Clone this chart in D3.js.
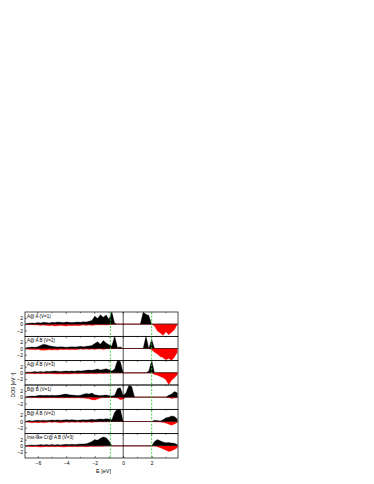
<!DOCTYPE html>
<html>
<head>
<meta charset="utf-8">
<script src="https://cdn.jsdelivr.net/npm/d3@7"></script>
<style>
  body { margin: 0; background: #fff; }
  text { font-family: "Liberation Sans", Arial, sans-serif; }
</style>
</head>
<body>
<div id="chart"></div>
<script>
// Energy grid: -6.8 .. 3.8 eV, 0.2 eV step (54 points)
const energies = d3.range(54).map(i => +(-6.8 + i * 0.2).toFixed(1));

const panelLabels = [
  "A@ A (V=1)",
  "A@ A B (V=2)",
  "A@ A B (V=3)",
  "B@ B (V=1)",
  "B@ A B (V=2)",
  "Inst-like Cr@ A B (V=3)"
];

// spin up (black) per panel
const up1 = [0.2,0.3,0.4,0.3,0.5,0.4,0.6,0.5,0.4,0.6, 0.5,0.7,0.6,0.5,0.7,0.6,0.5,0.6,0.7,0.6,
  0.8,0.7,0.9,1.2,2.6,1.8,3.0,2.2,2.9,1.6, 4.0,0.3,0,0,0,0,0,0,0,0, 0,3.8,3.2,2.8,0,0,0,0,0,0, 0,0,0,0];
const up2 = [0.3,0.4,0.5,0.4,0.6,1.0,1.4,1.2,0.9,0.7, 0.6,0.5,0.6,0.5,0.4,0.5,0.6,0.5,0.6,0.7,
  0.6,0.7,0.8,1.0,1.6,2.2,1.4,2.6,1.8,1.2, 0.8,4.0,0.3,0.5,0,0,0,0,0,0, 0,0,4.0,0,3.0,0,0,0,0,0, 0,0,0,0];
const up3 = [0.3,0.2,0.3,0.4,0.3,0.4,0.3,0.5,0.4,0.5, 0.6,0.5,0.4,0.5,0.6,0.5,0.6,0.5,0.7,0.6,
  0.7,0.8,0.9,0.8,1.0,1.2,0.9,1.1,1.3,1.0, 0.6,1.2,4.0,3.6,0,0,0,0,0,0, 0,0,0,0.6,4.0,0,0,0,0,0, 0,0,0,0];
const up4 = [0.2,0.3,0.4,0.3,0.5,0.6,0.5,0.6,0.5,0.6, 0.5,0.6,0.7,0.9,1.0,0.8,0.7,0.6,0.5,0.6,
  0.9,1.2,1.0,1.3,0.8,0.6,0.5,0.6,0.7,0.5, 0.4,0.6,2.8,3.0,0.5,1.5,3.8,3.4,0,0, 0,0,0,0,0,0,0,0,0,0, 0.6,1.0,1.8,1.4];
const up5 = [0.2,0.3,0.2,0.3,0.4,0.3,0.4,0.3,0.4,0.5, 0.4,0.5,0.4,0.5,0.6,0.5,0.6,0.5,0.4,0.5,
  0.6,0.5,0.6,0.7,0.6,0.7,0.8,0.7,0.9,0.8, 0.6,3.0,4.0,4.0,0,0,0,0,0,0, 0,0,0,0,0,0.4,0.3,0.2,0.6,1.2, 1.4,1.8,1.6,0.8];
const up6 = [0.1,0.2,0.3,0.2,0.3,0.4,0.3,0.4,0.3,0.4, 0.3,0.4,0.3,0.4,0.5,0.4,0.5,0.4,0.5,0.6,
  0.6,0.7,1.0,1.4,2.0,1.8,2.4,2.8,2.6,1.6, 0,0,0,0,0,0,0,0,0,0, 0,0,0,0,0,1.4,2.0,1.6,1.2,1.0, 1.1,0.9,0.8,0.4];

// spin down (red) per panel
const dn1 = [-0.1,-0.2,-0.2,-0.3,-0.3,-0.4,-0.3,-0.4,-0.5,-0.4, -0.6,-0.5,-0.4,-0.5,-0.6,-0.4,-0.5,-0.4,-0.5,-0.4,
  -0.3,-0.4,-0.3,-0.4,-0.3,-0.2,-0.3,-0.2,-0.3,-0.2, -0.1,0,0,0,0,0,0,0,0,0, 0,0,0,0,0,-0.6,-2.2,-2.8,-3.6,-2.4, -3.4,-2.6,-1.8,0];
const dn2 = [-0.2,-0.3,-0.3,-0.4,-0.3,-0.5,-0.6,-0.5,-0.4,-0.5, -0.4,-0.5,-0.3,-0.4,-0.3,-0.4,-0.3,-0.4,-0.3,-0.2,
  -0.3,-0.2,-0.3,-0.2,-0.3,-0.2,-0.2,-0.3,-0.2,-0.1, -0.1,0,0,0,0,0,0,0,0,0, 0,0,0,0,-0.4,-1.2,-1.8,-2.6,-3.0,-3.6, -3.2,-3.8,-2.8,-1.2];
const dn3 = [-0.1,-0.2,-0.2,-0.3,-0.2,-0.3,-0.2,-0.3,-0.2,-0.3, -0.3,-0.4,-0.3,-0.4,-0.3,-0.4,-0.3,-0.2,-0.3,-0.2,
  -0.2,-0.3,-0.2,-0.2,-0.3,-0.2,-0.1,-0.2,-0.1,-0.1, 0,0,0,0,0,0,0,0,0,0, 0,0,0,0,0,-0.5,-0.8,-1.2,-1.6,-2.2, -3.8,-2.4,-1.6,-0.6];
const dn4 = [-0.1,-0.1,-0.2,-0.1,-0.2,-0.3,-0.2,-0.3,-0.2,-0.2, -0.2,-0.3,-0.2,-0.3,-0.2,-0.3,-0.2,-0.3,-0.2,-0.3,
  -0.3,-0.4,-0.5,-0.8,-0.9,-0.6,-0.3,-0.2,-0.2,-0.1, -0.1,-0.2,-0.3,-0.8,-0.6,0,0,0,0,0, 0,0,0,0,0,0,0,0,0,0, -0.2,-0.4,-0.3,-0.2];
const dn5 = [-0.2,-0.3,-0.4,-0.3,-0.4,-0.3,-0.4,-0.3,-0.2,-0.3, -0.2,-0.3,-0.4,-0.3,-0.2,-0.3,-0.2,-0.3,-0.2,-0.3,
  -0.2,-0.3,-0.2,-0.3,-0.2,-0.2,-0.1,-0.2,-0.1,-0.1, 0,0,0,0,0,0,0,0,0,0, 0,0,0,0,0,-0.1,-0.2,-0.2,-0.3,-0.5, -0.9,-1.2,-0.8,-0.3];
const dn6 = [-0.1,-0.2,-0.3,-0.2,-0.3,-0.4,-0.3,-0.2,-0.3,-0.2, -0.3,-0.2,-0.3,-0.4,-0.3,-0.2,-0.3,-0.2,-0.3,-0.2,
  -0.2,-0.3,-0.2,-0.1,-0.2,-0.1,-0.1,-0.1,0,0, 0,0,0,0,0,0,0,0,0,0, 0,0,0,0,0,0,-0.3,-0.6,-1.0,-1.4, -1.8,-1.6,-1.2,-0.6];

const upSeries = [up1, up2, up3, up4, up5, up6];
const dnSeries = [dn1, dn2, dn3, dn4, dn5, dn6];

const xTicks = [-6, -4, -2, 0, 2];
const xMinor = [-5, -3, -1, 1, 3];
const yTicks = [2, 0, -2];
const dashedE = [-0.9, 2.0];

// layout
const W = 374, H = 484;
const mLeft = 25, mRight = 178, mTop = 312, mBottom = 458;
const nP = 6;
const pH = (mBottom - mTop) / nP;

const svg = d3.select("#chart").append("svg")
  .attr("width", W).attr("height", H);

const x = d3.scaleLinear().domain([-6.9, 3.85]).range([mLeft, mRight]);

for (let p = 0; p < nP; p++) {
  const y0 = mTop + p * pH;
  const y = d3.scaleLinear().domain([-3.9, 3.9]).range([y0 + pH, y0]);
  const g = svg.append("g");

  g.append("clipPath").attr("id", "clip" + p)
    .append("rect").attr("x", mLeft).attr("y", y0).attr("width", mRight - mLeft).attr("height", pH);

  const area = d3.area()
    .x((d, i) => x(energies[i]))
    .y0(y(0))
    .y1(d => y(d));

  const plot = g.append("g").attr("clip-path", "url(#clip" + p + ")");

  plot.append("line")
    .attr("x1", mLeft).attr("x2", mRight)
    .attr("y1", y(0)).attr("y2", y(0))
    .attr("stroke", "#9a7878").attr("stroke-width", 1);

  plot.append("path").datum(dnSeries[p])
    .attr("d", area).attr("fill", "#ff0000").attr("stroke", "#ff0000").attr("stroke-width", 0.3);
  plot.append("path").datum(upSeries[p])
    .attr("d", area).attr("fill", "#000").attr("stroke", "#000").attr("stroke-width", 0.3);

  // y ticks
  const yAxis = d3.axisLeft(y).tickValues(yTicks).tickSize(-2).tickPadding(2)
    .tickFormat(d3.format("d"));
  const ya = g.append("g").attr("transform", "translate(" + mLeft + ",0)").call(yAxis);
  ya.select(".domain").remove();
  ya.selectAll("text").attr("font-size", 5).attr("fill", "#000");
  ya.selectAll("line").attr("stroke", "#000").attr("stroke-width", 0.5);

  // top ticks of each panel
  g.selectAll(".tt").data(xTicks.concat(xMinor)).enter().append("line")
    .attr("x1", d => x(d)).attr("x2", d => x(d))
    .attr("y1", y0).attr("y2", d => y0 + (xTicks.includes(d) ? 2 : 1.2))
    .attr("stroke", "#000").attr("stroke-width", 0.5);

  // panel frame
  g.append("rect").attr("x", mLeft).attr("y", y0).attr("width", mRight - mLeft).attr("height", pH)
    .attr("fill", "none").attr("stroke", "#000").attr("stroke-width", 0.7);

  g.append("text").attr("x", mLeft + 2).attr("y", y0 + 5.5)
    .attr("font-size", 4.5).text(panelLabels[p]);
}

// vertical line at 0
svg.append("line").attr("x1", x(0)).attr("x2", x(0)).attr("y1", mTop).attr("y2", mBottom)
  .attr("stroke", "#000").attr("stroke-width", 0.7);

// dashed green lines
svg.selectAll(".dash").data(dashedE).enter().append("line")
  .attr("x1", d => x(d)).attr("x2", d => x(d)).attr("y1", mTop).attr("y2", mBottom)
  .attr("stroke", "#22cc22").attr("stroke-width", 0.8).attr("stroke-dasharray", "2,1.5");

// bottom x axis
const xAxis = d3.axisBottom(x).tickValues(xTicks).tickSize(-2).tickPadding(3)
  .tickFormat(d3.format("d"));
const xa = svg.append("g").attr("transform", "translate(0," + mBottom + ")").call(xAxis);
xa.select(".domain").remove();
xa.selectAll("text").attr("font-size", 5).attr("fill", "#000");
xa.selectAll("line").attr("stroke", "#000").attr("stroke-width", 0.5);
svg.selectAll(".mt").data(xMinor).enter().append("line")
  .attr("x1", d => x(d)).attr("x2", d => x(d)).attr("y1", mBottom).attr("y2", mBottom - 1.2)
  .attr("stroke", "#000").attr("stroke-width", 0.5);

svg.append("text").attr("x", (mLeft + mRight) / 2 + 2).attr("y", 473)
  .attr("text-anchor", "middle").attr("font-size", 5.5).text("E [eV]");

svg.append("text")
  .attr("transform", "translate(15," + ((mTop + mBottom) / 2) + ") rotate(-90)")
  .attr("text-anchor", "middle").attr("font-size", 5).text("DOS [eV\u207B\u00B9]");
</script>
</body>
</html>
